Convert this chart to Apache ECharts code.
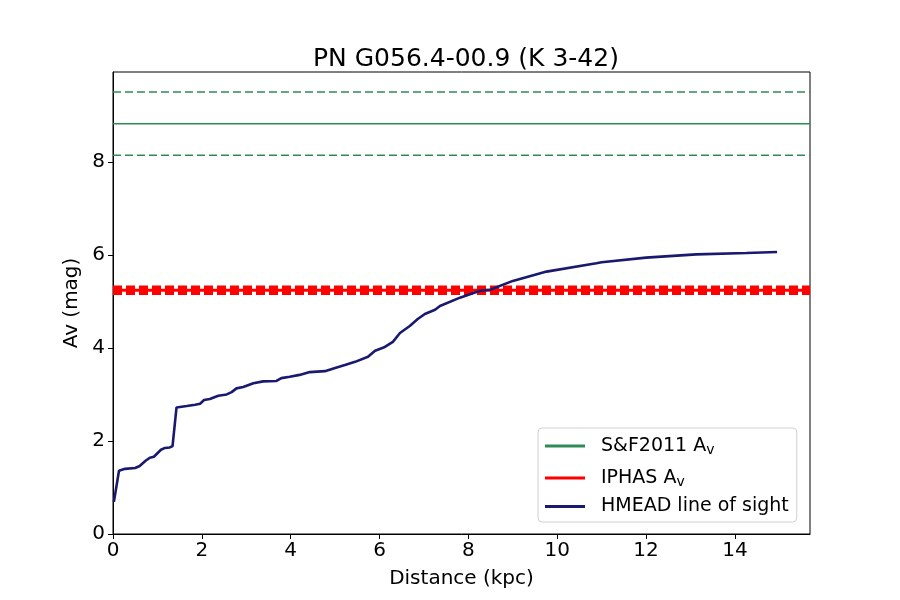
<!DOCTYPE html>
<html><head><meta charset="utf-8">
<script src="https://cdn.jsdelivr.net/npm/echarts@6/dist/echarts.min.js"></script>
<style>html,body{margin:0;padding:0;background:#fff}#c{width:900px;height:600px}</style>
</head><body><div id="c"></div>
<script>
const titleText = 'PN G056.4-00.9 (K 3-42)';
const xMax = 15.69, yMax = 9.93;
const sfAv = 8.82, sfLow = 8.14, sfHigh = 9.50;
const iphasAv = 5.24, iphasLow = 5.18, iphasHigh = 5.30;
const hmeadDist = [0.02,0.135,0.27,0.5,0.6,0.74,0.83,0.92,1.08,1.17,1.28,1.34,1.43,1.66,1.85,1.96,2.05,2.18,2.37,2.56,2.67,2.78,2.93,3.16,3.38,3.68,3.79,3.98,4.2,4.43,4.77,5.0,5.22,5.45,5.74,5.9,6.12,6.3,6.46,6.68,6.86,7.02,7.25,7.36,7.81,8.26,8.49,9.0,9.76,10.88,11.0,12.0,13.13,14.26,14.95];
const hmeadAv = [0.69,1.36,1.40,1.42,1.46,1.58,1.64,1.66,1.81,1.85,1.86,1.89,2.72,2.75,2.78,2.80,2.88,2.90,2.97,3.00,3.05,3.13,3.16,3.24,3.28,3.29,3.35,3.38,3.42,3.48,3.50,3.57,3.63,3.70,3.81,3.94,4.02,4.13,4.32,4.47,4.62,4.73,4.82,4.90,5.08,5.23,5.25,5.44,5.64,5.82,5.84,5.94,6.01,6.04,6.06];

const FONT = 'DejaVu Sans';
const chart = echarts.init(document.getElementById('c'), null, {renderer:'canvas'});
const hline = (v) => [[0, v], [xMax, v]];
const rich = {a:{fontFamily:FONT,fontSize:19,color:'#000',lineHeight:22}, s:{fontFamily:FONT,fontSize:14,color:'#000',verticalAlign:'bottom',lineHeight:22,padding:[10,0,0,0]}};
chart.setOption({
  animation:false,
  title:{text:titleText,left:308,top:42,textStyle:{fontFamily:FONT,fontSize:25,fontWeight:'normal',color:'#000'}},
  grid:{left:113,right:90,top:72,bottom:66,outerBoundsMode:'none',containLabel:false,show:true,borderColor:'#000',borderWidth:1,backgroundColor:'transparent'},
  xAxis:{type:'value',min:0,max:xMax,interval:2,name:'Distance (kpc)',nameLocation:'middle',nameGap:35,
    nameTextStyle:{fontFamily:FONT,fontSize:20,color:'#000'},
    axisLine:{lineStyle:{color:'#000'}},axisTick:{length:5,lineStyle:{color:'#000'}},
    axisLabel:{fontFamily:FONT,fontSize:20,color:'#000',showMaxLabel:false,margin:7},splitLine:{show:false}},
  yAxis:{type:'value',min:0,max:yMax,interval:2,name:'Av (mag)',nameLocation:'middle',nameGap:31,
    nameTextStyle:{fontFamily:FONT,fontSize:20,color:'#000'},
    axisLine:{show:true,lineStyle:{color:'#000'}},axisTick:{show:true,length:5,lineStyle:{color:'#000'}},
    axisLabel:{fontFamily:FONT,fontSize:20,color:'#000',showMaxLabel:false,margin:8},splitLine:{show:false}},
  legend:{left:538,top:428,orient:'vertical',icon:'rect',itemWidth:40,itemHeight:3,itemGap:8,
    backgroundColor:'#fff',borderColor:'#d0d0d0',borderWidth:1,borderRadius:4,padding:[5,8,6,7],
    data:['S&F2011','IPHAS','HMEAD line of sight'],
    formatter:function(n){ if(n==='HMEAD line of sight') return '{a|'+n+'}'; return '{a|'+n+' A}{s|v}'; },
    textStyle:{rich:rich,fontFamily:FONT,fontSize:19,padding:[0,0,0,11]}},
  series:[
    {name:'S&F2011',type:'line',data:hline(sfAv),symbol:'none',lineStyle:{color:'#2e8b57',width:1.5},itemStyle:{color:'#2e8b57'}},
    {name:'S&F2011 hi',type:'line',data:hline(sfHigh),symbol:'none',lineStyle:{color:'#2e8b57',width:1.5,type:[8,4]}},
    {name:'S&F2011 lo',type:'line',data:hline(sfLow),symbol:'none',lineStyle:{color:'#2e8b57',width:1.5,type:[8,4]}},
    {name:'IPHAS',type:'line',data:hline(iphasAv),symbol:'none',lineStyle:{color:'#ff0000',width:3},itemStyle:{color:'#ff0000'}},
    {name:'IPHAS hi',type:'line',data:hline(iphasHigh),symbol:'none',lineStyle:{color:'#ff0000',width:4,type:[9,4]}},
    {name:'IPHAS lo',type:'line',data:hline(iphasLow),symbol:'none',lineStyle:{color:'#ff0000',width:4,type:[9,4]}},
    {name:'HMEAD line of sight',type:'line',data:hmeadDist.map((d,i)=>[d,hmeadAv[i]]),symbol:'none',lineStyle:{color:'#191970',width:2.6},itemStyle:{color:'#191970'},z:5}
  ]
});
</script></body></html>
